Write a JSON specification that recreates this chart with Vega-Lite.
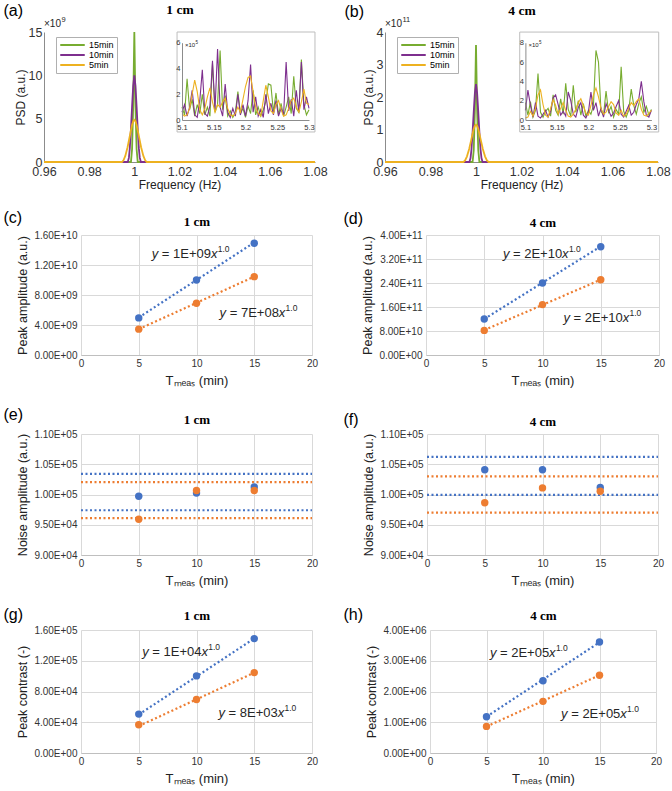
{
"$schema":"https://vega.github.io/schema/vega-lite/v6.json",
"padding":{"left":3,"top":2,"right":0,"bottom":0},
"background":"white",
"datasets":{
"psd":[
{"p":"a","s":"15min","f":0.96,"v":0},{"p":"a","s":"15min","f":0.9985,"v":0},{"p":"a","s":"15min","f":0.999,"v":1.5e9},{"p":"a","s":"15min","f":0.9995,"v":6.5e9},{"p":"a","s":"15min","f":1.0,"v":1.5e10},{"p":"a","s":"15min","f":1.0005,"v":6.5e9},{"p":"a","s":"15min","f":1.001,"v":1.5e9},{"p":"a","s":"15min","f":1.0015,"v":0},{"p":"a","s":"15min","f":1.08,"v":0},
{"p":"a","s":"10min","f":0.96,"v":0},{"p":"a","s":"10min","f":0.9971,"v":0},{"p":"a","s":"10min","f":0.9976,"v":5e8},{"p":"a","s":"10min","f":0.998,"v":1.6e9},{"p":"a","s":"10min","f":0.9985,"v":3.8e9},{"p":"a","s":"10min","f":0.999,"v":6.4e9},{"p":"a","s":"10min","f":0.9995,"v":8.8e9},{"p":"a","s":"10min","f":1.0,"v":1e10},{"p":"a","s":"10min","f":1.0005,"v":8.8e9},{"p":"a","s":"10min","f":1.001,"v":6.4e9},{"p":"a","s":"10min","f":1.0015,"v":3.8e9},{"p":"a","s":"10min","f":1.002,"v":1.6e9},{"p":"a","s":"10min","f":1.0024,"v":5e8},{"p":"a","s":"10min","f":1.0029,"v":0},{"p":"a","s":"10min","f":1.08,"v":0},
{"p":"a","s":"5min","f":0.96,"v":0},{"p":"a","s":"5min","f":0.9945,"v":0},{"p":"a","s":"5min","f":0.9952,"v":2e8},{"p":"a","s":"5min","f":0.996,"v":7e8},{"p":"a","s":"5min","f":0.997,"v":1.7e9},{"p":"a","s":"5min","f":0.998,"v":3.0e9},{"p":"a","s":"5min","f":0.999,"v":4.3e9},{"p":"a","s":"5min","f":0.9995,"v":4.7e9},{"p":"a","s":"5min","f":1.0,"v":4.85e9},{"p":"a","s":"5min","f":1.0005,"v":4.7e9},{"p":"a","s":"5min","f":1.001,"v":4.3e9},{"p":"a","s":"5min","f":1.002,"v":3.0e9},{"p":"a","s":"5min","f":1.003,"v":1.7e9},{"p":"a","s":"5min","f":1.004,"v":7e8},{"p":"a","s":"5min","f":1.0048,"v":2e8},{"p":"a","s":"5min","f":1.0055,"v":0},{"p":"a","s":"5min","f":1.08,"v":0},
{"p":"b","s":"15min","f":0.96,"v":0},{"p":"b","s":"15min","f":0.9985,"v":0},{"p":"b","s":"15min","f":0.999,"v":3.6e10},{"p":"b","s":"15min","f":0.9995,"v":1.56e11},{"p":"b","s":"15min","f":1.0,"v":3.6e11},{"p":"b","s":"15min","f":1.0005,"v":1.56e11},{"p":"b","s":"15min","f":1.001,"v":3.6e10},{"p":"b","s":"15min","f":1.0015,"v":0},{"p":"b","s":"15min","f":1.08,"v":0},
{"p":"b","s":"10min","f":0.96,"v":0},{"p":"b","s":"10min","f":0.9971,"v":0},{"p":"b","s":"10min","f":0.9976,"v":1.2e10},{"p":"b","s":"10min","f":0.998,"v":3.84e10},{"p":"b","s":"10min","f":0.9985,"v":9.1e10},{"p":"b","s":"10min","f":0.999,"v":1.54e11},{"p":"b","s":"10min","f":0.9995,"v":2.11e11},{"p":"b","s":"10min","f":1.0,"v":2.4e11},{"p":"b","s":"10min","f":1.0005,"v":2.11e11},{"p":"b","s":"10min","f":1.001,"v":1.54e11},{"p":"b","s":"10min","f":1.0015,"v":9.1e10},{"p":"b","s":"10min","f":1.002,"v":3.84e10},{"p":"b","s":"10min","f":1.0024,"v":1.2e10},{"p":"b","s":"10min","f":1.0029,"v":0},{"p":"b","s":"10min","f":1.08,"v":0},
{"p":"b","s":"5min","f":0.96,"v":0},{"p":"b","s":"5min","f":0.9945,"v":0},{"p":"b","s":"5min","f":0.9952,"v":4.7e9},{"p":"b","s":"5min","f":0.996,"v":1.66e10},{"p":"b","s":"5min","f":0.997,"v":4.0e10},{"p":"b","s":"5min","f":0.998,"v":7.1e10},{"p":"b","s":"5min","f":0.999,"v":1.02e11},{"p":"b","s":"5min","f":0.9995,"v":1.11e11},{"p":"b","s":"5min","f":1.0,"v":1.15e11},{"p":"b","s":"5min","f":1.0005,"v":1.11e11},{"p":"b","s":"5min","f":1.001,"v":1.02e11},{"p":"b","s":"5min","f":1.002,"v":7.1e10},{"p":"b","s":"5min","f":1.003,"v":4.0e10},{"p":"b","s":"5min","f":1.004,"v":1.66e10},{"p":"b","s":"5min","f":1.0048,"v":4.7e9},{"p":"b","s":"5min","f":1.0055,"v":0},{"p":"b","s":"5min","f":1.08,"v":0}
],
"inA":[
{"f":5.100,"15min":1.0e5,"10min":0.6e5,"5min":0.5e5},{"f":5.104,"15min":0.4e5,"10min":1.2e5,"5min":0.3e5},{"f":5.108,"15min":3.2e5,"10min":0.3e5,"5min":0.4e5},{"f":5.112,"15min":0.8e5,"10min":1.0e5,"5min":0.9e5},{"f":5.116,"15min":1.6e5,"10min":2.3e5,"5min":2.0e5},{"f":5.120,"15min":0.3e5,"10min":0.4e5,"5min":3.1e5},{"f":5.124,"15min":1.2e5,"10min":0.2e5,"5min":2.2e5},{"f":5.128,"15min":0.5e5,"10min":1.5e5,"5min":0.8e5},{"f":5.132,"15min":2.0e5,"10min":3.9e5,"5min":0.4e5},{"f":5.136,"15min":0.4e5,"10min":0.5e5,"5min":0.9e5},{"f":5.140,"15min":1.0e5,"10min":0.3e5,"5min":1.8e5},{"f":5.144,"15min":0.3e5,"10min":1.1e5,"5min":2.5e5},{"f":5.148,"15min":4.4e5,"10min":4.6e5,"5min":1.4e5},{"f":5.152,"15min":0.6e5,"10min":0.8e5,"5min":0.6e5},{"f":5.156,"15min":1.2e5,"10min":5.5e5,"5min":1.2e5},{"f":5.160,"15min":5.4e5,"10min":1.0e5,"5min":1.0e5},{"f":5.164,"15min":0.8e5,"10min":0.3e5,"5min":1.4e5},{"f":5.168,"15min":1.9e5,"10min":2.8e5,"5min":1.7e5},{"f":5.172,"15min":0.3e5,"10min":0.6e5,"5min":0.9e5},{"f":5.176,"15min":0.7e5,"10min":0.2e5,"5min":0.4e5},{"f":5.180,"15min":0.2e5,"10min":0.9e5,"5min":0.3e5},{"f":5.184,"15min":0.6e5,"10min":0.3e5,"5min":0.5e5},{"f":5.188,"15min":2.2e5,"10min":2.0e5,"5min":1.0e5},{"f":5.192,"15min":0.5e5,"10min":0.4e5,"5min":0.6e5},{"f":5.196,"15min":0.9e5,"10min":1.2e5,"5min":1.6e5},{"f":5.200,"15min":0.2e5,"10min":0.3e5,"5min":2.6e5},{"f":5.204,"15min":1.1e5,"10min":1.5e5,"5min":3.3e5},{"f":5.208,"15min":0.5e5,"10min":4.3e5,"5min":3.4e5},{"f":5.212,"15min":2.3e5,"10min":0.6e5,"5min":2.2e5},{"f":5.216,"15min":0.4e5,"10min":1.8e5,"5min":1.0e5},{"f":5.220,"15min":1.0e5,"10min":0.3e5,"5min":0.5e5},{"f":5.224,"15min":0.3e5,"10min":0.8e5,"5min":0.3e5},{"f":5.228,"15min":0.8e5,"10min":0.2e5,"5min":1.5e5},{"f":5.232,"15min":1.4e5,"10min":2.0e5,"5min":2.7e5},{"f":5.236,"15min":2.8e5,"10min":0.5e5,"5min":1.8e5},{"f":5.240,"15min":2.7e5,"10min":1.3e5,"5min":0.7e5},{"f":5.244,"15min":0.6e5,"10min":0.4e5,"5min":0.5e5},{"f":5.248,"15min":2.1e5,"10min":1.5e5,"5min":1.2e5},{"f":5.252,"15min":0.4e5,"10min":0.3e5,"5min":1.5e5},{"f":5.256,"15min":1.3e5,"10min":0.9e5,"5min":0.8e5},{"f":5.260,"15min":0.3e5,"10min":0.4e5,"5min":0.3e5},{"f":5.264,"15min":1.0e5,"10min":4.5e5,"5min":0.4e5},{"f":5.268,"15min":1.8e5,"10min":0.7e5,"5min":0.9e5},{"f":5.272,"15min":0.5e5,"10min":1.6e5,"5min":1.5e5},{"f":5.276,"15min":3.4e5,"10min":0.3e5,"5min":1.7e5},{"f":5.280,"15min":0.9e5,"10min":2.3e5,"5min":1.0e5},{"f":5.284,"15min":0.6e5,"10min":0.6e5,"5min":0.6e5},{"f":5.288,"15min":4.7e5,"10min":4.5e5,"5min":1.4e5},{"f":5.292,"15min":1.2e5,"10min":0.8e5,"5min":2.4e5},{"f":5.296,"15min":0.4e5,"10min":1.8e5,"5min":1.3e5},{"f":5.300,"15min":0.8e5,"10min":0.9e5,"5min":1.2e5}
],
"inB":[
{"f":5.100,"15min":1.8e5,"10min":1.0e5,"5min":0.2e5},{"f":5.104,"15min":0.5e5,"10min":3.1e5,"5min":0.3e5},{"f":5.108,"15min":1.9e5,"10min":1.5e5,"5min":0.9e5},{"f":5.112,"15min":0.3e5,"10min":0.3e5,"5min":0.4e5},{"f":5.116,"15min":1.0e5,"10min":1.8e5,"5min":1.2e5},{"f":5.120,"15min":4.8e5,"10min":0.4e5,"5min":2.6e5},{"f":5.124,"15min":0.8e5,"10min":0.2e5,"5min":3.1e5},{"f":5.128,"15min":0.3e5,"10min":0.6e5,"5min":1.6e5},{"f":5.132,"15min":0.9e5,"10min":1.0e5,"5min":0.5e5},{"f":5.136,"15min":1.2e5,"10min":0.3e5,"5min":0.3e5},{"f":5.140,"15min":0.4e5,"10min":0.9e5,"5min":1.2e5},{"f":5.144,"15min":2.6e5,"10min":2.3e5,"5min":2.1e5},{"f":5.148,"15min":1.0e5,"10min":2.6e5,"5min":1.5e5},{"f":5.152,"15min":0.5e5,"10min":1.6e5,"5min":0.6e5},{"f":5.156,"15min":2.2e5,"10min":0.5e5,"5min":1.2e5},{"f":5.160,"15min":0.6e5,"10min":0.9e5,"5min":1.8e5},{"f":5.164,"15min":3.8e5,"10min":0.4e5,"5min":1.0e5},{"f":5.168,"15min":1.1e5,"10min":2.9e5,"5min":0.4e5},{"f":5.172,"15min":0.4e5,"10min":2.0e5,"5min":0.3e5},{"f":5.176,"15min":3.6e5,"10min":0.6e5,"5min":0.6e5},{"f":5.180,"15min":0.8e5,"10min":0.3e5,"5min":1.1e5},{"f":5.184,"15min":2.0e5,"10min":1.3e5,"5min":1.8e5},{"f":5.188,"15min":0.5e5,"10min":1.8e5,"5min":2.2e5},{"f":5.192,"15min":1.7e5,"10min":0.5e5,"5min":1.5e5},{"f":5.196,"15min":0.4e5,"10min":0.2e5,"5min":0.7e5},{"f":5.200,"15min":1.0e5,"10min":0.8e5,"5min":0.5e5},{"f":5.204,"15min":0.6e5,"10min":2.9e5,"5min":1.5e5},{"f":5.208,"15min":1.5e5,"10min":1.0e5,"5min":2.6e5},{"f":5.212,"15min":7.2e5,"10min":1.8e5,"5min":3.3e5},{"f":5.216,"15min":6.0e5,"10min":0.4e5,"5min":2.4e5},{"f":5.220,"15min":0.9e5,"10min":1.2e5,"5min":1.2e5},{"f":5.224,"15min":0.5e5,"10min":0.3e5,"5min":0.6e5},{"f":5.228,"15min":3.0e5,"10min":1.7e5,"5min":0.8e5},{"f":5.232,"15min":0.8e5,"10min":1.0e5,"5min":1.4e5},{"f":5.236,"15min":1.4e5,"10min":0.4e5,"5min":1.9e5},{"f":5.240,"15min":0.3e5,"10min":0.7e5,"5min":1.6e5},{"f":5.244,"15min":1.1e5,"10min":1.4e5,"5min":0.7e5},{"f":5.248,"15min":0.6e5,"10min":2.0e5,"5min":0.5e5},{"f":5.252,"15min":5.5e5,"10min":0.6e5,"5min":1.0e5},{"f":5.256,"15min":0.9e5,"10min":0.3e5,"5min":0.4e5},{"f":5.260,"15min":0.3e5,"10min":0.9e5,"5min":0.6e5},{"f":5.264,"15min":1.0e5,"10min":1.5e5,"5min":1.2e5},{"f":5.268,"15min":3.2e5,"10min":0.5e5,"5min":1.8e5},{"f":5.272,"15min":1.5e5,"10min":0.8e5,"5min":1.5e5},{"f":5.276,"15min":0.6e5,"10min":1.6e5,"5min":1.9e5},{"f":5.280,"15min":1.7e5,"10min":2.2e5,"5min":2.2e5},{"f":5.284,"15min":2.4e5,"10min":4.0e5,"5min":1.1e5},{"f":5.288,"15min":0.8e5,"10min":1.9e5,"5min":0.5e5},{"f":5.292,"15min":1.4e5,"10min":0.5e5,"5min":0.4e5},{"f":5.296,"15min":0.5e5,"10min":0.3e5,"5min":0.7e5},{"f":5.300,"15min":1.1e5,"10min":1.0e5,"5min":1.0e5}
],
"pts":[
{"p":"c","g":"blue","t":5,"v":4.95e9},{"p":"c","g":"blue","t":10,"v":1.0e10},{"p":"c","g":"blue","t":15,"v":1.49e10},
{"p":"c","g":"orange","t":5,"v":3.45e9},{"p":"c","g":"orange","t":10,"v":6.9e9},{"p":"c","g":"orange","t":15,"v":1.045e10},
{"p":"d","g":"blue","t":5,"v":1.2e11},{"p":"d","g":"blue","t":10,"v":2.4e11},{"p":"d","g":"blue","t":15,"v":3.61e11},
{"p":"d","g":"orange","t":5,"v":8.2e10},{"p":"d","g":"orange","t":10,"v":1.68e11},{"p":"d","g":"orange","t":15,"v":2.51e11},
{"p":"e","g":"blue","t":5,"v":99700},{"p":"e","g":"blue","t":10,"v":100250},{"p":"e","g":"blue","t":15,"v":101230},
{"p":"e","g":"orange","t":5,"v":95920},{"p":"e","g":"orange","t":10,"v":100650},{"p":"e","g":"orange","t":15,"v":100650},
{"p":"f","g":"blue","t":5,"v":104100},{"p":"f","g":"blue","t":10,"v":104100},{"p":"f","g":"blue","t":15,"v":101150},
{"p":"f","g":"orange","t":5,"v":98630},{"p":"f","g":"orange","t":10,"v":101090},{"p":"f","g":"orange","t":15,"v":100550},
{"p":"g","g":"blue","t":5,"v":50600},{"p":"g","g":"blue","t":10,"v":100300},{"p":"g","g":"blue","t":15,"v":148800},
{"p":"g","g":"orange","t":5,"v":36800},{"p":"g","g":"orange","t":10,"v":69600},{"p":"g","g":"orange","t":15,"v":104600},
{"p":"h","g":"blue","t":5,"v":1.18e6},{"p":"h","g":"blue","t":10,"v":2.35e6},{"p":"h","g":"blue","t":15,"v":3.61e6},
{"p":"h","g":"orange","t":5,"v":8.65e5},{"p":"h","g":"orange","t":10,"v":1.68e6},{"p":"h","g":"orange","t":15,"v":2.53e6}
],
"fit":[
{"p":"c","g":"blue","t":5,"v":5.0e9},{"p":"c","g":"blue","t":15,"v":1.5e10},{"p":"c","g":"orange","t":5,"v":3.45e9},{"p":"c","g":"orange","t":15,"v":1.045e10},
{"p":"d","g":"blue","t":5,"v":1.2e11},{"p":"d","g":"blue","t":15,"v":3.62e11},{"p":"d","g":"orange","t":5,"v":8.3e10},{"p":"d","g":"orange","t":15,"v":2.51e11},
{"p":"g","g":"blue","t":5,"v":5.0e4},{"p":"g","g":"blue","t":15,"v":1.49e5},{"p":"g","g":"orange","t":5,"v":3.5e4},{"p":"g","g":"orange","t":15,"v":1.045e5},
{"p":"h","g":"blue","t":5,"v":1.18e6},{"p":"h","g":"blue","t":15,"v":3.6e6},{"p":"h","g":"orange","t":5,"v":8.6e5},{"p":"h","g":"orange","t":15,"v":2.53e6}
],
"lvl":[
{"p":"e","g":"blue","v":103425},{"p":"e","g":"blue","v":97397},{"p":"e","g":"orange","v":102055},{"p":"e","g":"orange","v":96082},
{"p":"f","g":"blue","v":106230},{"p":"f","g":"blue","v":99945},{"p":"f","g":"orange","v":103005},{"p":"f","g":"orange","v":96995}
],
"eq":[
{"p":"c","t":6.12,"v":1.30e10,"c":"= 1E+09"},{"p":"c","t":12.0,"v":5.1e9,"c":"= 7E+08"},
{"p":"d","t":6.6,"v":3.23e11,"c":"= 2E+10"},{"p":"d","t":11.8,"v":1.1e11,"c":"= 2E+10"},
{"p":"g","t":5.3,"v":1.26e5,"c":"= 1E+04"},{"p":"g","t":11.9,"v":4.7e4,"c":"= 8E+03"},
{"p":"h","t":5.3,"v":3.12e6,"c":"= 2E+05"},{"p":"h","t":11.6,"v":1.14e6,"c":"= 2E+05"}
]
},
"vconcat":[
{"hconcat":[
{"width":234,"height":130,
 "layer":[
  {"layer":[
    {"data":{"name":"psd"},"transform":[{"filter":"datum.p=='a'"}],
     "mark":{"type":"line","strokeWidth":1.8},
     "encoding":{
      "x":{"field":"f","type":"quantitative","scale":{"domain":[0.96,1.08],"range":[-37,234],"nice":false,"zero":false},
           "axis":{"orient":"bottom","title":"Frequency (Hz)","values":[0.96,0.98,1,1.02,1.04,1.06,1.08],"format":"~g","domainColor":"#8c8c8c","labelFontSize":12.5,"labelPadding":3.5,"titleFontSize":12,"titlePadding":1.5}},
      "y":{"field":"v","type":"quantitative","scale":{"domain":[0,1.5e10],"nice":false},
           "axis":{"orient":"left","offset":37,"title":"PSD (a.u.)","values":[0,5e9,1e10,1.5e10],"labelExpr":"format(datum.value/1e9,'~g')","domainColor":"#8c8c8c","labelFontSize":12.5,"labelPadding":2,"minExtent":0,"titleFontSize":12,"titlePadding":1}},
      "color":{"field":"s","type":"nominal","scale":{"domain":["15min","10min","5min"],"range":["#77AC30","#7E2F8E","#EDB120"]},"legend":{"title":null,"orient":"none","legendX":-25,"legendY":5}}}},
    {"data":{"values":[{}]},
     "mark":{"type":"text","text":"\u00d710","align":"left","baseline":"alphabetic","dy":-5,"fontSize":10},
     "encoding":{
      "x":{"datum":0.96,"type":"quantitative","scale":{"domain":[0.96,1.08],"range":[-37,234],"nice":false,"zero":false},"axis":{"orient":"top","title":"1 cm","labels":false,"domain":false,"titleFont":"Liberation Serif","titleFontWeight":"bold","titleFontSize":13.5,"titleBaseline":"alphabetic","titleY":-18.7,"titleColor":"#000000"}},
      "y":{"datum":1.5e10,"type":"quantitative","axis":{"orient":"right","title":"(a)","labels":false,"domain":false,"titleAngle":0,"titleAlign":"left","titleBaseline":"alphabetic","titleX":-312,"titleY":-17,"titleFontSize":16,"titleColor":"#000000","minExtent":0,"maxExtent":0}}}},
    {"data":{"values":[{}]},
     "mark":{"type":"text","text":"9","align":"left","baseline":"alphabetic","dx":17.5,"dy":-10,"fontSize":7.5},
     "encoding":{"x":{"datum":0.96,"type":"quantitative","axis":null},"y":{"datum":1.5e10,"type":"quantitative","axis":null}}}
  ],"resolve":{"axis":{"x":"independent","y":"independent"}}},
  {"data":{"values":[{}]},"mark":{"type":"rect","fill":null,"stroke":"#bdbdbd","strokeWidth":1},
   "encoding":{"x":{"datum":5.0922,"type":"quantitative","scale":{"domain":[5.1,5.3],"range":[101,228],"nice":false,"zero":false},"axis":null},"x2":{"datum":5.3094},
     "y":{"datum":-93000,"type":"quantitative","scale":{"domain":[0,600000],"range":[88,10.7],"nice":false,"zero":false},"axis":null},"y2":{"datum":683000}}},
  {"data":{"name":"inA"},"transform":[{"fold":["15min","10min","5min"],"as":["s","v"]}],
   "mark":{"type":"line","strokeWidth":1.1},
   "encoding":{
    "x":{"field":"f","type":"quantitative","scale":{"domain":[5.1,5.3],"range":[101,228],"nice":false,"zero":false},
         "axis":{"orient":"bottom","offset":-42,"zindex":1,"title":null,"values":[5.1,5.15,5.2,5.25,5.3],"format":"~g","domainColor":"#8c8c8c","labelFontSize":7.5,"labelPadding":3}},
    "y":{"field":"v","type":"quantitative","scale":{"domain":[0,600000],"range":[88,10.7],"nice":false,"zero":false},
         "axis":{"orient":"left","offset":-101,"zindex":1,"title":null,"values":[0,200000,400000,600000],"labelExpr":"format(datum.value/1e5,'~g')","domainColor":"#8c8c8c","labelFontSize":7.5,"labelPadding":2,"minExtent":0}},
    "color":{"field":"s","type":"nominal","scale":{"domain":["15min","10min","5min"],"range":["#77AC30","#7E2F8E","#EDB120"]},"legend":null}}},
  {"data":{"values":[{}]},"mark":{"type":"text","text":"\u00d710","align":"left","baseline":"alphabetic","dx":3,"dy":4,"fontSize":6},
   "encoding":{"x":{"datum":5.1,"type":"quantitative","scale":{"domain":[5.1,5.3],"range":[101,228],"nice":false,"zero":false},"axis":null},"y":{"datum":600000,"type":"quantitative","scale":{"domain":[0,600000],"range":[88,10.7],"nice":false,"zero":false},"axis":null}}},
  {"data":{"values":[{}]},"mark":{"type":"text","text":"5","align":"left","baseline":"alphabetic","dx":13.5,"dy":1,"fontSize":4.5},
   "encoding":{"x":{"datum":5.1,"type":"quantitative","scale":{"domain":[5.1,5.3],"range":[101,228],"nice":false,"zero":false},"axis":null},"y":{"datum":600000,"type":"quantitative","scale":{"domain":[0,600000],"range":[88,10.7],"nice":false,"zero":false},"axis":null}}}
 ],
 "resolve":{"scale":{"x":"independent","y":"independent"}}
},
{"width":273,"height":130,
 "layer":[
  {"layer":[
    {"data":{"name":"psd"},"transform":[{"filter":"datum.p=='b'"}],
     "mark":{"type":"line","strokeWidth":1.8},
     "encoding":{
      "x":{"field":"f","type":"quantitative","scale":{"domain":[0.96,1.08],"nice":false,"zero":false},
           "axis":{"orient":"bottom","title":"Frequency (Hz)","values":[0.96,0.98,1,1.02,1.04,1.06,1.08],"format":"~g","domainColor":"#8c8c8c","labelFontSize":12.5,"labelPadding":3.5,"titleFontSize":12,"titlePadding":1.5}},
      "y":{"field":"v","type":"quantitative","scale":{"domain":[0,4e11],"nice":false},
           "axis":{"orient":"left","title":"PSD (a.u.)","values":[0,1e11,2e11,3e11,4e11],"labelExpr":"format(datum.value/1e11,'~g')","domainColor":"#8c8c8c","labelFontSize":12.5,"labelPadding":2,"minExtent":0,"titleFontSize":12,"titlePadding":1}},
      "color":{"field":"s","type":"nominal","scale":{"domain":["15min","10min","5min"],"range":["#77AC30","#7E2F8E","#EDB120"]},"legend":{"title":null,"orient":"none","legendX":12,"legendY":5}}}},
    {"data":{"values":[{}]},
     "mark":{"type":"text","text":"\u00d710","align":"left","baseline":"alphabetic","dy":-5,"fontSize":10},
     "encoding":{
      "x":{"datum":0.96,"type":"quantitative","axis":{"orient":"top","title":"4 cm","labels":false,"domain":false,"titleFont":"Liberation Serif","titleFontWeight":"bold","titleFontSize":13.5,"titleBaseline":"alphabetic","titleY":-18,"titleColor":"#000000"}},
      "y":{"datum":4e11,"type":"quantitative","axis":{"orient":"right","title":"(b)","labels":false,"domain":false,"titleAngle":0,"titleAlign":"left","titleBaseline":"alphabetic","titleX":-314,"titleY":-15.5,"titleFontSize":16,"titleColor":"#000000","minExtent":0,"maxExtent":0}}}},
    {"data":{"values":[{}]},
     "mark":{"type":"text","text":"11","align":"left","baseline":"alphabetic","dx":17.5,"dy":-10,"fontSize":7.5},
     "encoding":{"x":{"datum":0.96,"type":"quantitative","axis":null},"y":{"datum":4e11,"type":"quantitative","axis":null}}}
  ],"resolve":{"axis":{"x":"independent","y":"independent"}}},
  {"data":{"values":[{}]},"mark":{"type":"rect","fill":null,"stroke":"#bdbdbd","strokeWidth":1},
   "encoding":{"x":{"datum":5.091,"type":"quantitative","scale":{"domain":[5.1,5.3],"range":[140.4,266.4],"nice":false,"zero":false},"axis":null},"x2":{"datum":5.3116},
     "y":{"datum":-124000,"type":"quantitative","scale":{"domain":[0,800000],"range":[88,10.7],"nice":false,"zero":false},"axis":null},"y2":{"datum":910000}}},
  {"data":{"name":"inB"},"transform":[{"fold":["15min","10min","5min"],"as":["s","v"]}],
   "mark":{"type":"line","strokeWidth":1.1},
   "encoding":{
    "x":{"field":"f","type":"quantitative","scale":{"domain":[5.1,5.3],"range":[140.4,266.4],"nice":false,"zero":false},
         "axis":{"orient":"bottom","offset":-42,"zindex":1,"title":null,"values":[5.1,5.15,5.2,5.25,5.3],"format":"~g","domainColor":"#8c8c8c","labelFontSize":7.5,"labelPadding":3}},
    "y":{"field":"v","type":"quantitative","scale":{"domain":[0,800000],"range":[88,10.7],"nice":false,"zero":false},
         "axis":{"orient":"left","offset":-140.4,"zindex":1,"title":null,"values":[0,200000,400000,600000,800000],"labelExpr":"format(datum.value/1e5,'~g')","domainColor":"#8c8c8c","labelFontSize":7.5,"labelPadding":2,"minExtent":0}},
    "color":{"field":"s","type":"nominal","scale":{"domain":["15min","10min","5min"],"range":["#77AC30","#7E2F8E","#EDB120"]},"legend":null}}},
  {"data":{"values":[{}]},"mark":{"type":"text","text":"\u00d710","align":"left","baseline":"alphabetic","dx":3,"dy":4,"fontSize":6},
   "encoding":{"x":{"datum":5.1,"type":"quantitative","scale":{"domain":[5.1,5.3],"range":[140.4,266.4],"nice":false,"zero":false},"axis":null},"y":{"datum":800000,"type":"quantitative","scale":{"domain":[0,800000],"range":[88,10.7],"nice":false,"zero":false},"axis":null}}},
  {"data":{"values":[{}]},"mark":{"type":"text","text":"5","align":"left","baseline":"alphabetic","dx":13.5,"dy":1,"fontSize":4.5},
   "encoding":{"x":{"datum":5.1,"type":"quantitative","scale":{"domain":[5.1,5.3],"range":[140.4,266.4],"nice":false,"zero":false},"axis":null},"y":{"datum":800000,"type":"quantitative","scale":{"domain":[0,800000],"range":[88,10.7],"nice":false,"zero":false},"axis":null}}}
 ],
 "resolve":{"scale":{"x":"independent","y":"independent"}}
}
],"spacing":-8,"resolve":{"scale":{"color":"independent"},"legend":{"color":"independent"}}},

{"hconcat":[
{"width":231,"height":120,
 "layer":[
  {"data":{"name":"fit"},"transform":[{"filter":"datum.p=='c'"}],"mark":{"type":"line","strokeDash":[2,2.5],"strokeWidth":2.2},
   "encoding":{
    "x":{"field":"t","type":"quantitative","scale":{"domain":[0,20],"nice":false},"axis":{"orient":"bottom","title":"T\u2098\u2091\u2090\u209b (min)","values":[0,5,10,15,20],"grid":true,"gridColor":"#d9d9d9","domainColor":"#bfbfbf","labelFontSize":10,"labelPadding":3.5,"titleFontSize":13,"titlePadding":6}},
    "y":{"field":"v","type":"quantitative","scale":{"domain":[0,1.6e10],"nice":false},"axis":{"orient":"left","title":"Peak amplitude (a.u.)","values":[0,4e9,8e9,1.2e10,1.6e10],"grid":true,"gridColor":"#d9d9d9","domain":false,"labelExpr":"datum.value == 0 ? '0.00E+00' : format(datum.value / pow(10, floor(log(datum.value) / LN10 + 1e-9)), '.2f') + 'E+' + (floor(log(datum.value) / LN10 + 1e-9) < 10 ? '0' : '') + floor(log(datum.value) / LN10 + 1e-9)","labelFontSize":10,"labelPadding":4,"minExtent":48,"maxExtent":48,"titleFontSize":12.5,"titlePadding":4}},
    "color":{"field":"g","type":"nominal","scale":{"domain":["blue","orange"],"range":["#4472C4","#ED7D31"]},"legend":null}}},
  {"data":{"name":"pts"},"transform":[{"filter":"datum.p=='c'"}],"mark":{"type":"circle","size":55,"opacity":1},
   "encoding":{
    "x":{"field":"t","type":"quantitative","scale":{"domain":[0,20],"nice":false},"axis":{"orient":"top","title":"1 cm","labels":false,"domain":false,"titleFont":"Liberation Serif","titleFontWeight":"bold","titleFontSize":13,"titleBaseline":"alphabetic","titleY":-9.7,"titleColor":"#000000"}},
    "y":{"field":"v","type":"quantitative","scale":{"domain":[0,1.6e10],"nice":false},"axis":{"orient":"right","title":"(c)","labels":false,"domain":false,"titleAngle":0,"titleAlign":"left","titleBaseline":"alphabetic","titleX":-309,"titleY":-13,"titleFontSize":16,"titleColor":"#000000","minExtent":0,"maxExtent":0}},
    "color":{"field":"g","type":"nominal","scale":{"domain":["blue","orange"],"range":["#4472C4","#ED7D31"]},"legend":null}}},
  {"data":{"name":"eq"},"transform":[{"filter":"datum.p=='c'"}],"mark":{"type":"text","text":"y","fontStyle":"italic","align":"left","baseline":"alphabetic","fontSize":13},
   "encoding":{"x":{"field":"t","type":"quantitative","axis":null},"y":{"field":"v","type":"quantitative","axis":null}}},
  {"data":{"name":"eq"},"transform":[{"filter":"datum.p=='c'"}],"mark":{"type":"text","align":"left","baseline":"alphabetic","fontSize":13,"dx":10.1},
   "encoding":{"x":{"field":"t","type":"quantitative","axis":null},"y":{"field":"v","type":"quantitative","axis":null},"text":{"field":"c"}}},
  {"data":{"name":"eq"},"transform":[{"filter":"datum.p=='c'"}],"mark":{"type":"text","text":"x","fontStyle":"italic","align":"left","baseline":"alphabetic","fontSize":13,"dx":59.2},
   "encoding":{"x":{"field":"t","type":"quantitative","axis":null},"y":{"field":"v","type":"quantitative","axis":null}}},
  {"data":{"name":"eq"},"transform":[{"filter":"datum.p=='c'"}],"mark":{"type":"text","text":"1.0","align":"left","baseline":"alphabetic","fontSize":8.5,"dx":66,"dy":-6},
   "encoding":{"x":{"field":"t","type":"quantitative","axis":null},"y":{"field":"v","type":"quantitative","axis":null}}}
 ],
 "resolve":{"axis":{"x":"independent","y":"independent"}}
},
{"width":233,"height":120,
 "layer":[
  {"data":{"name":"fit"},"transform":[{"filter":"datum.p=='d'"}],"mark":{"type":"line","strokeDash":[2,2.5],"strokeWidth":2.2},
   "encoding":{
    "x":{"field":"t","type":"quantitative","scale":{"domain":[0,20],"nice":false},"axis":{"orient":"bottom","title":"T\u2098\u2091\u2090\u209b (min)","values":[0,5,10,15,20],"grid":true,"gridColor":"#d9d9d9","domainColor":"#bfbfbf","labelFontSize":10,"labelPadding":3.5,"titleFontSize":13,"titlePadding":6}},
    "y":{"field":"v","type":"quantitative","scale":{"domain":[0,4e11],"nice":false},"axis":{"orient":"left","title":"Peak amplitude (a.u.)","values":[0,8e10,1.6e11,2.4e11,3.2e11,4e11],"grid":true,"gridColor":"#d9d9d9","domain":false,"labelExpr":"datum.value == 0 ? '0.00E+00' : format(datum.value / pow(10, floor(log(datum.value) / LN10 + 1e-9)), '.2f') + 'E+' + (floor(log(datum.value) / LN10 + 1e-9) < 10 ? '0' : '') + floor(log(datum.value) / LN10 + 1e-9)","labelFontSize":10,"labelPadding":4,"minExtent":48,"maxExtent":48,"titleFontSize":12.5,"titlePadding":4}},
    "color":{"field":"g","type":"nominal","scale":{"domain":["blue","orange"],"range":["#4472C4","#ED7D31"]},"legend":null}}},
  {"data":{"name":"pts"},"transform":[{"filter":"datum.p=='d'"}],"mark":{"type":"circle","size":55,"opacity":1},
   "encoding":{
    "x":{"field":"t","type":"quantitative","scale":{"domain":[0,20],"nice":false},"axis":{"orient":"top","title":"4 cm","labels":false,"domain":false,"titleFont":"Liberation Serif","titleFontWeight":"bold","titleFontSize":13,"titleBaseline":"alphabetic","titleY":-9,"titleColor":"#000000"}},
    "y":{"field":"v","type":"quantitative","scale":{"domain":[0,4e11],"nice":false},"axis":{"orient":"right","title":"(d)","labels":false,"domain":false,"titleAngle":0,"titleAlign":"left","titleBaseline":"alphabetic","titleX":-316,"titleY":-12,"titleFontSize":16,"titleColor":"#000000","minExtent":0,"maxExtent":0}},
    "color":{"field":"g","type":"nominal","scale":{"domain":["blue","orange"],"range":["#4472C4","#ED7D31"]},"legend":null}}},
  {"data":{"name":"eq"},"transform":[{"filter":"datum.p=='d'"}],"mark":{"type":"text","text":"y","fontStyle":"italic","align":"left","baseline":"alphabetic","fontSize":13},
   "encoding":{"x":{"field":"t","type":"quantitative","axis":null},"y":{"field":"v","type":"quantitative","axis":null}}},
  {"data":{"name":"eq"},"transform":[{"filter":"datum.p=='d'"}],"mark":{"type":"text","align":"left","baseline":"alphabetic","fontSize":13,"dx":10.1},
   "encoding":{"x":{"field":"t","type":"quantitative","axis":null},"y":{"field":"v","type":"quantitative","axis":null},"text":{"field":"c"}}},
  {"data":{"name":"eq"},"transform":[{"filter":"datum.p=='d'"}],"mark":{"type":"text","text":"x","fontStyle":"italic","align":"left","baseline":"alphabetic","fontSize":13,"dx":59.2},
   "encoding":{"x":{"field":"t","type":"quantitative","axis":null},"y":{"field":"v","type":"quantitative","axis":null}}},
  {"data":{"name":"eq"},"transform":[{"filter":"datum.p=='d'"}],"mark":{"type":"text","text":"1.0","align":"left","baseline":"alphabetic","fontSize":8.5,"dx":66,"dy":-6},
   "encoding":{"x":{"field":"t","type":"quantitative","axis":null},"y":{"field":"v","type":"quantitative","axis":null}}}
 ],
 "resolve":{"axis":{"x":"independent","y":"independent"}}
}
],"spacing":25,"resolve":{"scale":{"color":"independent"},"legend":{"color":"independent"}}},

{"hconcat":[
{"width":231,"height":121,
 "layer":[
  {"data":{"name":"lvl"},"transform":[{"filter":"datum.p=='e'"}],"mark":{"type":"rule","strokeDash":[2,2.5],"strokeWidth":2.2},
   "encoding":{
    "x":{"datum":0,"type":"quantitative","scale":{"domain":[0,20],"nice":false},"axis":{"orient":"top","title":"1 cm","labels":false,"domain":false,"titleFont":"Liberation Serif","titleFontWeight":"bold","titleFontSize":13,"titleBaseline":"alphabetic","titleY":-10.3,"titleColor":"#000000"}},
    "x2":{"datum":20},
    "y":{"field":"v","type":"quantitative","scale":{"domain":[90000,110000],"nice":false,"zero":false},"axis":{"orient":"right","title":"(e)","labels":false,"domain":false,"titleAngle":0,"titleAlign":"left","titleBaseline":"alphabetic","titleX":-309,"titleY":-15,"titleFontSize":16,"titleColor":"#000000","minExtent":0,"maxExtent":0}},
    "color":{"field":"g","type":"nominal","scale":{"domain":["blue","orange"],"range":["#4472C4","#ED7D31"]},"legend":null}}},
  {"data":{"name":"pts"},"transform":[{"filter":"datum.p=='e'"}],"mark":{"type":"circle","size":55,"opacity":1},
   "encoding":{
    "x":{"field":"t","type":"quantitative","scale":{"domain":[0,20],"nice":false},"axis":{"orient":"bottom","title":"T\u2098\u2091\u2090\u209b (min)","values":[0,5,10,15,20],"grid":true,"gridColor":"#d9d9d9","domainColor":"#bfbfbf","labelFontSize":10,"labelPadding":3.5,"titleFontSize":13,"titlePadding":6}},
    "y":{"field":"v","type":"quantitative","scale":{"domain":[90000,110000],"nice":false,"zero":false},"axis":{"orient":"left","title":"Noise amplitude (a.u.)","values":[90000,95000,100000,105000,110000],"grid":true,"gridColor":"#d9d9d9","domain":false,"labelExpr":"datum.value == 0 ? '0.00E+00' : format(datum.value / pow(10, floor(log(datum.value) / LN10 + 1e-9)), '.2f') + 'E+' + (floor(log(datum.value) / LN10 + 1e-9) < 10 ? '0' : '') + floor(log(datum.value) / LN10 + 1e-9)","labelFontSize":10,"labelPadding":4,"minExtent":48,"maxExtent":48,"titleFontSize":12.5,"titlePadding":4}},
    "color":{"field":"g","type":"nominal","scale":{"domain":["blue","orange"],"range":["#4472C4","#ED7D31"]},"legend":null}}}
 ],
 "resolve":{"axis":{"x":"independent","y":"independent"}}
},
{"width":231,"height":121,
 "layer":[
  {"data":{"name":"lvl"},"transform":[{"filter":"datum.p=='f'"}],"mark":{"type":"rule","strokeDash":[2,2.5],"strokeWidth":2.2},
   "encoding":{
    "x":{"datum":0,"type":"quantitative","scale":{"domain":[0,20],"nice":false},"axis":{"orient":"top","title":"4 cm","labels":false,"domain":false,"titleFont":"Liberation Serif","titleFontWeight":"bold","titleFontSize":13,"titleBaseline":"alphabetic","titleY":-9,"titleColor":"#000000"}},
    "x2":{"datum":20},
    "y":{"field":"v","type":"quantitative","scale":{"domain":[90000,110000],"nice":false,"zero":false},"axis":{"orient":"right","title":"(f)","labels":false,"domain":false,"titleAngle":0,"titleAlign":"left","titleBaseline":"alphabetic","titleX":-315,"titleY":-10,"titleFontSize":16,"titleColor":"#000000","minExtent":0,"maxExtent":0}},
    "color":{"field":"g","type":"nominal","scale":{"domain":["blue","orange"],"range":["#4472C4","#ED7D31"]},"legend":null}}},
  {"data":{"name":"pts"},"transform":[{"filter":"datum.p=='f'"}],"mark":{"type":"circle","size":55,"opacity":1},
   "encoding":{
    "x":{"field":"t","type":"quantitative","scale":{"domain":[0,20],"nice":false},"axis":{"orient":"bottom","title":"T\u2098\u2091\u2090\u209b (min)","values":[0,5,10,15,20],"grid":true,"gridColor":"#d9d9d9","domainColor":"#bfbfbf","labelFontSize":10,"labelPadding":3.5,"titleFontSize":13,"titlePadding":6}},
    "y":{"field":"v","type":"quantitative","scale":{"domain":[90000,110000],"nice":false,"zero":false},"axis":{"orient":"left","title":"Noise amplitude (a.u.)","values":[90000,95000,100000,105000,110000],"grid":true,"gridColor":"#d9d9d9","domain":false,"labelExpr":"datum.value == 0 ? '0.00E+00' : format(datum.value / pow(10, floor(log(datum.value) / LN10 + 1e-9)), '.2f') + 'E+' + (floor(log(datum.value) / LN10 + 1e-9) < 10 ? '0' : '') + floor(log(datum.value) / LN10 + 1e-9)","labelFontSize":10,"labelPadding":4,"minExtent":48,"maxExtent":48,"titleFontSize":12.5,"titlePadding":4}},
    "color":{"field":"g","type":"nominal","scale":{"domain":["blue","orange"],"range":["#4472C4","#ED7D31"]},"legend":null}}}
 ],
 "resolve":{"axis":{"x":"independent","y":"independent"}}
}
],"spacing":25,"resolve":{"scale":{"color":"independent"},"legend":{"color":"independent"}}},

{"hconcat":[
{"width":231,"height":123,
 "layer":[
  {"data":{"name":"fit"},"transform":[{"filter":"datum.p=='g'"}],"mark":{"type":"line","strokeDash":[2,2.5],"strokeWidth":2.2},
   "encoding":{
    "x":{"field":"t","type":"quantitative","scale":{"domain":[0,20],"nice":false},"axis":{"orient":"bottom","title":"T\u2098\u2091\u2090\u209b (min)","values":[0,5,10,15,20],"grid":true,"gridColor":"#d9d9d9","domainColor":"#bfbfbf","labelFontSize":10,"labelPadding":3.5,"titleFontSize":13,"titlePadding":6}},
    "y":{"field":"v","type":"quantitative","scale":{"domain":[0,160000],"nice":false},"axis":{"orient":"left","title":"Peak contrast (-)","values":[0,40000,80000,120000,160000],"grid":true,"gridColor":"#d9d9d9","domain":false,"labelExpr":"datum.value == 0 ? '0.00E+00' : format(datum.value / pow(10, floor(log(datum.value) / LN10 + 1e-9)), '.2f') + 'E+' + (floor(log(datum.value) / LN10 + 1e-9) < 10 ? '0' : '') + floor(log(datum.value) / LN10 + 1e-9)","labelFontSize":10,"labelPadding":4,"minExtent":48,"maxExtent":48,"titleFontSize":12.5,"titlePadding":4}},
    "color":{"field":"g","type":"nominal","scale":{"domain":["blue","orange"],"range":["#4472C4","#ED7D31"]},"legend":null}}},
  {"data":{"name":"pts"},"transform":[{"filter":"datum.p=='g'"}],"mark":{"type":"circle","size":55,"opacity":1},
   "encoding":{
    "x":{"field":"t","type":"quantitative","scale":{"domain":[0,20],"nice":false},"axis":{"orient":"top","title":"1 cm","labels":false,"domain":false,"titleFont":"Liberation Serif","titleFontWeight":"bold","titleFontSize":13,"titleBaseline":"alphabetic","titleY":-10.3,"titleColor":"#000000"}},
    "y":{"field":"v","type":"quantitative","scale":{"domain":[0,160000],"nice":false},"axis":{"orient":"right","title":"(g)","labels":false,"domain":false,"titleAngle":0,"titleAlign":"left","titleBaseline":"alphabetic","titleX":-309,"titleY":-11,"titleFontSize":16,"titleColor":"#000000","minExtent":0,"maxExtent":0}},
    "color":{"field":"g","type":"nominal","scale":{"domain":["blue","orange"],"range":["#4472C4","#ED7D31"]},"legend":null}}},
  {"data":{"name":"eq"},"transform":[{"filter":"datum.p=='g'"}],"mark":{"type":"text","text":"y","fontStyle":"italic","align":"left","baseline":"alphabetic","fontSize":13},
   "encoding":{"x":{"field":"t","type":"quantitative","axis":null},"y":{"field":"v","type":"quantitative","axis":null}}},
  {"data":{"name":"eq"},"transform":[{"filter":"datum.p=='g'"}],"mark":{"type":"text","align":"left","baseline":"alphabetic","fontSize":13,"dx":10.1},
   "encoding":{"x":{"field":"t","type":"quantitative","axis":null},"y":{"field":"v","type":"quantitative","axis":null},"text":{"field":"c"}}},
  {"data":{"name":"eq"},"transform":[{"filter":"datum.p=='g'"}],"mark":{"type":"text","text":"x","fontStyle":"italic","align":"left","baseline":"alphabetic","fontSize":13,"dx":59.2},
   "encoding":{"x":{"field":"t","type":"quantitative","axis":null},"y":{"field":"v","type":"quantitative","axis":null}}},
  {"data":{"name":"eq"},"transform":[{"filter":"datum.p=='g'"}],"mark":{"type":"text","text":"1.0","align":"left","baseline":"alphabetic","fontSize":8.5,"dx":66,"dy":-6},
   "encoding":{"x":{"field":"t","type":"quantitative","axis":null},"y":{"field":"v","type":"quantitative","axis":null}}}
 ],
 "resolve":{"axis":{"x":"independent","y":"independent"}}
},
{"width":226,"height":123,
 "layer":[
  {"data":{"name":"fit"},"transform":[{"filter":"datum.p=='h'"}],"mark":{"type":"line","strokeDash":[2,2.5],"strokeWidth":2.2},
   "encoding":{
    "x":{"field":"t","type":"quantitative","scale":{"domain":[0,20],"nice":false},"axis":{"orient":"bottom","title":"T\u2098\u2091\u2090\u209b (min)","values":[0,5,10,15,20],"grid":true,"gridColor":"#d9d9d9","domainColor":"#bfbfbf","labelFontSize":10,"labelPadding":3.5,"titleFontSize":13,"titlePadding":6}},
    "y":{"field":"v","type":"quantitative","scale":{"domain":[0,4e6],"nice":false},"axis":{"orient":"left","title":"Peak contrast (-)","values":[0,1e6,2e6,3e6,4e6],"grid":true,"gridColor":"#d9d9d9","domain":false,"labelExpr":"datum.value == 0 ? '0.00E+00' : format(datum.value / pow(10, floor(log(datum.value) / LN10 + 1e-9)), '.2f') + 'E+' + (floor(log(datum.value) / LN10 + 1e-9) < 10 ? '0' : '') + floor(log(datum.value) / LN10 + 1e-9)","labelFontSize":10,"labelPadding":4,"minExtent":48,"maxExtent":48,"titleFontSize":12.5,"titlePadding":4}},
    "color":{"field":"g","type":"nominal","scale":{"domain":["blue","orange"],"range":["#4472C4","#ED7D31"]},"legend":null}}},
  {"data":{"name":"pts"},"transform":[{"filter":"datum.p=='h'"}],"mark":{"type":"circle","size":55,"opacity":1},
   "encoding":{
    "x":{"field":"t","type":"quantitative","scale":{"domain":[0,20],"nice":false},"axis":{"orient":"top","title":"4 cm","labels":false,"domain":false,"titleFont":"Liberation Serif","titleFontWeight":"bold","titleFontSize":13,"titleBaseline":"alphabetic","titleY":-10.3,"titleColor":"#000000"}},
    "y":{"field":"v","type":"quantitative","scale":{"domain":[0,4e6],"nice":false},"axis":{"orient":"right","title":"(h)","labels":false,"domain":false,"titleAngle":0,"titleAlign":"left","titleBaseline":"alphabetic","titleX":-313,"titleY":-11,"titleFontSize":16,"titleColor":"#000000","minExtent":0,"maxExtent":0}},
    "color":{"field":"g","type":"nominal","scale":{"domain":["blue","orange"],"range":["#4472C4","#ED7D31"]},"legend":null}}},
  {"data":{"name":"eq"},"transform":[{"filter":"datum.p=='h'"}],"mark":{"type":"text","text":"y","fontStyle":"italic","align":"left","baseline":"alphabetic","fontSize":13},
   "encoding":{"x":{"field":"t","type":"quantitative","axis":null},"y":{"field":"v","type":"quantitative","axis":null}}},
  {"data":{"name":"eq"},"transform":[{"filter":"datum.p=='h'"}],"mark":{"type":"text","align":"left","baseline":"alphabetic","fontSize":13,"dx":10.1},
   "encoding":{"x":{"field":"t","type":"quantitative","axis":null},"y":{"field":"v","type":"quantitative","axis":null},"text":{"field":"c"}}},
  {"data":{"name":"eq"},"transform":[{"filter":"datum.p=='h'"}],"mark":{"type":"text","text":"x","fontStyle":"italic","align":"left","baseline":"alphabetic","fontSize":13,"dx":59.2},
   "encoding":{"x":{"field":"t","type":"quantitative","axis":null},"y":{"field":"v","type":"quantitative","axis":null}}},
  {"data":{"name":"eq"},"transform":[{"filter":"datum.p=='h'"}],"mark":{"type":"text","text":"1.0","align":"left","baseline":"alphabetic","fontSize":8.5,"dx":66,"dy":-6},
   "encoding":{"x":{"field":"t","type":"quantitative","axis":null},"y":{"field":"v","type":"quantitative","axis":null}}}
 ],
 "resolve":{"axis":{"x":"independent","y":"independent"}}
}
],"spacing":25,"resolve":{"scale":{"color":"independent"},"legend":{"color":"independent"}}}
],
"spacing":18,
"resolve":{"scale":{"color":"independent"},"legend":{"color":"independent"}},
"config":{
 "view":{"stroke":null},
 "axis":{"labelFont":"Liberation Sans","titleFont":"Liberation Sans","titleFontWeight":"normal","labelFlush":false,"labelOverlap":false,"ticks":false,"grid":false,"labelColor":"#333333","titleColor":"#222222"},
 "legend":{"symbolType":"stroke","symbolSize":600,"symbolStrokeWidth":2,"labelFontSize":9,"labelFont":"Liberation Sans","labelColor":"#000000","padding":3,"clipHeight":10,"rowPadding":0,"fillColor":"white","strokeColor":"#b0b0b0","labelOffset":3},
 "text":{"font":"Liberation Sans","color":"#262626"}
}
}
